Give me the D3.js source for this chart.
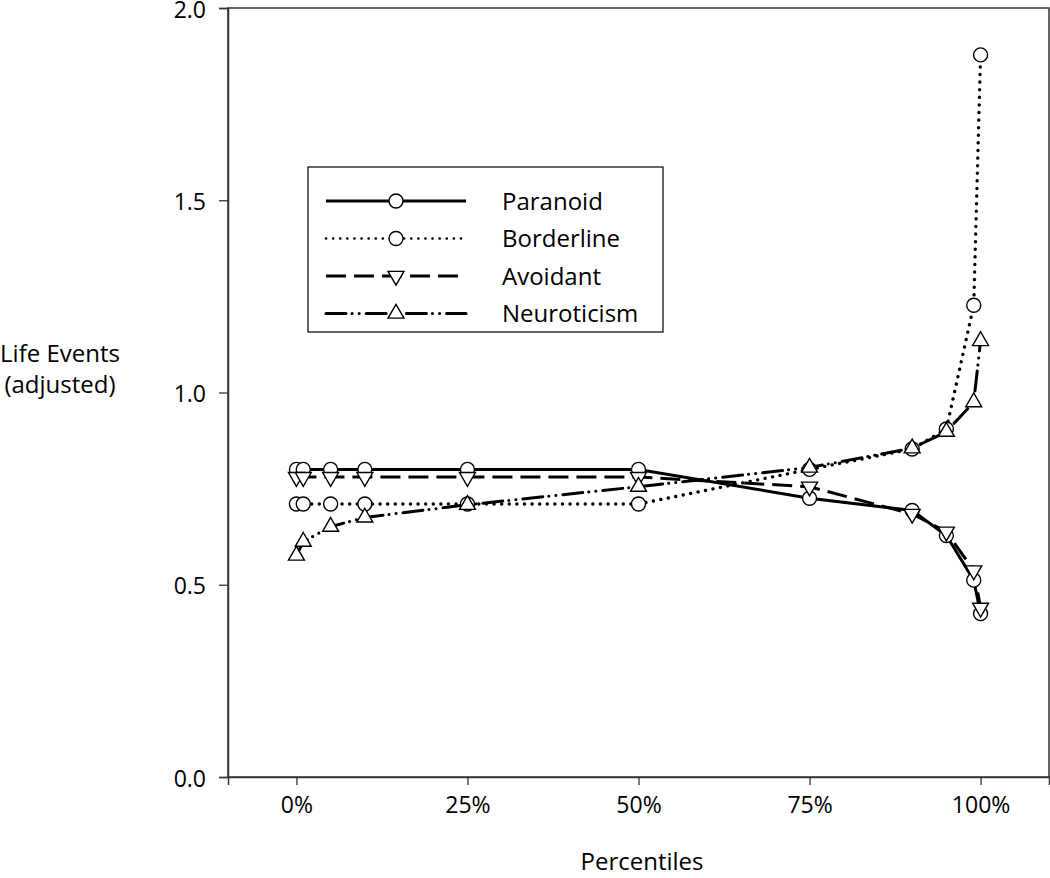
<!DOCTYPE html>
<html>
<head>
<meta charset="utf-8">
<script src="https://cdn.jsdelivr.net/npm/d3@7"></script>
<style>
  body { margin: 0; background: #fff; }
  svg text { font-family: "Open Sans", sans-serif; fill: #000; }
</style>
</head>
<body>
<svg id="chart" width="1050" height="878"></svg>
<script>
// percentiles on the x axis
const percentiles = [0, 1, 5, 10, 25, 50, 75, 90, 95, 99, 100];

const paranoid    = [0.80, 0.80, 0.80, 0.80, 0.80, 0.80, 0.725, 0.693, 0.628, 0.512, 0.425];
const borderline  = [0.71, 0.71, 0.71, 0.71, 0.71, 0.71, 0.80, 0.853, 0.905, 1.227, 1.878];
const avoidant    = [0.78, 0.78, 0.78, 0.78, 0.78, 0.78, 0.755, 0.684, 0.638, 0.537, 0.44];
const neuroticism = [0.576, 0.612, 0.651, 0.675, 0.708, 0.755, 0.805, 0.855, 0.898, 0.975, 1.134];

const seriesNames = ["Paranoid", "Borderline", "Avoidant", "Neuroticism"];
const xTicks = [0, 25, 50, 75, 100];
const yTicks = [0, 0.5, 1.0, 1.5, 2.0];

const styles = {
  Paranoid:    { dash: null,                   cap: "butt",  marker: "circle" },
  Borderline:  { dash: "0.1 7.5",              cap: "round", marker: "circle" },
  Avoidant:    { dash: "20 8",                 cap: "butt",  marker: "down" },
  Neuroticism: { dash: "20 6 0.1 7 0.1 7",     cap: "round", marker: "up" }
};

const svg = d3.select("#chart");
const x = d3.scaleLinear().domain([-10, 110]).range([228, 1049]);
const y = d3.scaleLinear().domain([0, 2]).range([777, 8]);

const series = [paranoid, borderline, avoidant, neuroticism].map((vals, i) => ({
  name: seriesNames[i],
  points: percentiles.map((p, j) => ({ p, v: vals[j] }))
}));

// frame
svg.append("rect")
  .attr("x", x.range()[0]).attr("y", y.range()[1])
  .attr("width", x.range()[1] - x.range()[0])
  .attr("height", y.range()[0] - y.range()[1])
  .attr("fill", "none").attr("stroke", "#333").attr("stroke-width", 1.5);

// axes
const xAxis = svg.append("g")
  .attr("transform", `translate(0,${y(0)})`)
  .call(d3.axisBottom(x).tickValues(xTicks).tickSize(8).tickPadding(12).tickFormat(d => d + "%"));
const yAxis = svg.append("g")
  .attr("transform", `translate(${x(-10)},0)`)
  .call(d3.axisLeft(y).tickValues(yTicks).tickSize(9).tickPadding(13).tickFormat(d3.format(".1f")));
[xAxis, yAxis].forEach(g => {
  g.select(".domain").attr("stroke", "#333").attr("stroke-width", 1.5);
  g.selectAll(".tick line").attr("stroke", "#333").attr("stroke-width", 1.3);
  g.selectAll(".tick text").style("font-size", "23px").attr("fill", "#000");
});
yAxis.selectAll(".tick text").attr("dy", "0.4em");

// axis titles
svg.append("text").attr("x", 642).attr("y", 870)
  .attr("text-anchor", "middle").style("font-size", "24px").text("Percentiles");
const yt = svg.append("text").attr("x", 60).attr("y", 362)
  .attr("text-anchor", "middle").style("font-size", "24px");
yt.append("tspan").attr("x", 60).attr("dy", 0).text("Life Events");
yt.append("tspan").attr("x", 60).attr("dy", 31).text("(adjusted)");

const line = d3.line().x(d => x(d.p)).y(d => y(d.v));

function drawMarker(g, kind, cx, cy) {
  if (kind === "circle") {
    g.append("circle").attr("cx", cx).attr("cy", cy).attr("r", 7)
      .attr("fill", "#fff").attr("stroke", "#000").attr("stroke-width", 1.4);
  } else {
    const sym = d3.symbol().type(d3.symbolTriangle).size(110);
    g.append("path").attr("d", sym())
      .attr("transform", `translate(${cx},${cy})` + (kind === "down" ? " rotate(180)" : ""))
      .attr("fill", "#fff").attr("stroke", "#000").attr("stroke-width", 1.4);
  }
}

// lines
const plot = svg.append("g");
series.forEach(s => {
  const st = styles[s.name];
  plot.append("path").datum(s.points)
    .attr("d", line)
    .attr("fill", "none").attr("stroke", "#000")
    .attr("stroke-width", s.name === "Borderline" ? 3.4 : 3)
    .attr("stroke-linecap", st.cap)
    .attr("stroke-dasharray", st.dash);
});
// markers
series.forEach(s => {
  const mg = plot.append("g");
  s.points.forEach(d => drawMarker(mg, styles[s.name].marker, x(d.p), y(d.v)));
});

// legend
const lg = svg.append("g");
lg.append("rect").attr("x", 308).attr("y", 167).attr("width", 355).attr("height", 165)
  .attr("fill", "#fff").attr("stroke", "#000").attr("stroke-width", 1.2);
seriesNames.forEach((name, i) => {
  const ly = 201 + i * 37.5;
  const st = styles[name];
  lg.append("line").attr("x1", 326).attr("x2", 466).attr("y1", ly).attr("y2", ly)
    .attr("stroke", "#000").attr("stroke-width", name === "Borderline" ? 2.6 : 3)
    .attr("stroke-linecap", st.cap)
    .attr("stroke-dasharray", name === "Borderline" ? "0.1 7" : st.dash);
  drawMarker(lg, st.marker, 396, ly);
  lg.append("text").attr("x", 502).attr("y", ly + 8.5).style("font-size", "24px").text(name);
});
</script>
</body>
</html>
